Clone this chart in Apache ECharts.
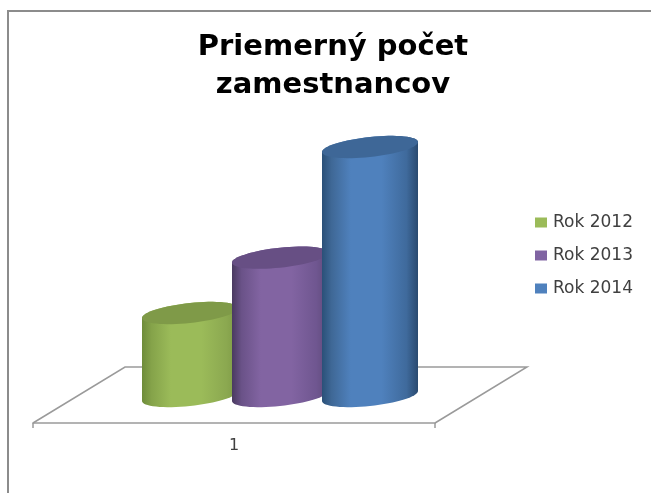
<!DOCTYPE html>
<html>
<head>
<meta charset="utf-8">
<style>
	html, body { margin: 0; padding: 0; background: #fff; }
	#chart { width: 651px; height: 493px; }
</style>
<script src="https://cdn.jsdelivr.net/npm/echarts@6/dist/echarts.min.js"></script>
</head>
<body>
<div id="chart"></div>
<script>
var titleText = 'Priemerný počet\nzamestnancov';
var categories = ['1'];
var seriesNames = ['Rok 2012', 'Rok 2013', 'Rok 2014'];
var rok2012 = [3];
var rok2013 = [5];
var rok2014 = [9];

var fontName = '"DejaVu Sans", sans-serif';
var lineColor = '#9a9a9a';

/* cylinder look, one per series */
var looks = [
	{ base: '#9bbb59', top: '#7f9a48', stops: ['#6e8c3a', '#85a34a', '#9bbb59', '#9bbb59', '#8ba850', '#7d9a45'] },
	{ base: '#8064a2', top: '#674f84', stops: ['#4a3a60', '#6a5288', '#8264a2', '#8264a2', '#6f5690', '#5f4a7a'] },
	{ base: '#4f81bd', top: '#3e6797', stops: ['#2a5078', '#3f6896', '#4f81bd', '#4f81bd', '#3f6a9c', '#2a4a70'] }
];

/* the floor is a sheared plane behind the axis line */
var floorDepthX = 92;
var floorDepthY = 56;
var floorDrop = 27;
var barStep = 90;
var barRx = 48;
var barRy = 10;
var barTilt = 5;

function ringPoint(cx, cy, t) {
	return [
		cx + barRx * Math.cos(t),
		cy - barRy * Math.sin(t) - barTilt * Math.cos(t)
	];
}

function cylinder(seriesIndex) {
	return function (params, api) {
		var look = looks[seriesIndex];
		var topPt = api.coord([api.value(0), api.value(1)]);
		var basePt = api.coord([api.value(0), 0]);
		var cx = topPt[0] + floorDepthX / 2 + (seriesIndex - 1) * barStep;
		var side = [];
		var lid = [];
		var i;
		for (i = 0; i <= 32; i++) {
			side.push(ringPoint(cx, basePt[1], Math.PI + i / 32 * Math.PI));
		}
		for (i = 0; i <= 32; i++) {
			side.push(ringPoint(cx, topPt[1], i / 32 * Math.PI));
		}
		for (i = 0; i < 64; i++) {
			lid.push(ringPoint(cx, topPt[1], i / 64 * Math.PI * 2));
		}
		var offsets = [0, 0.1, 0.3, 0.62, 0.88, 1];
		var gradient = new echarts.graphic.LinearGradient(0, 0, 1, 0, look.stops.map(function (c, n) {
			return { offset: offsets[n], color: c };
		}));
		return {
			type: 'group',
			children: [
				{ type: 'polygon', shape: { points: side }, style: { fill: gradient } },
				{ type: 'polygon', shape: { points: lid }, style: { fill: look.top } }
			]
		};
	};
}

function floorPlane(params, api) {
	var zero = api.coord([0, 0]);
	var halfWidth = api.size([1, 0])[0] / 2;
	var y = zero[1] + floorDrop;
	var xl = zero[0] - halfWidth;
	var xr = zero[0] + halfWidth;
	var pts = [
		[xl, y],
		[xl + floorDepthX, y - floorDepthY],
		[xr + floorDepthX, y - floorDepthY],
		[xr, y]
	];
	return {
		type: 'polyline',
		shape: { points: pts },
		style: { fill: null, stroke: lineColor, lineWidth: 1.5 }
	};
}

function customSeries(name, values, index) {
	return {
		name: name,
		type: 'custom',
		coordinateSystem: 'cartesian2d',
		renderItem: cylinder(index),
		itemStyle: { color: looks[index].base },
		clip: false,
		z: 3 + index,
		encode: { x: 0, y: 1 },
		data: values.map(function (v, i) { return [i, v]; })
	};
}

var chart = echarts.init(document.getElementById('chart'), null, { renderer: 'canvas' });
chart.setOption({
	animation: false,
	backgroundColor: '#ffffff',
	title: {
		text: titleText,
		left: 328,
		top: 23,
		textAlign: 'center',
		textStyle: {
			fontFamily: fontName,
			fontWeight: 'bold',
			fontSize: 29,
			lineHeight: 38,
			color: '#000000'
		}
	},
	legend: {
		orient: 'vertical',
		left: 530,
		top: 209,
		itemWidth: 12,
		itemHeight: 10,
		itemGap: 16,
		icon: 'rect',
		data: seriesNames,
		textStyle: { fontFamily: fontName, fontSize: 17, lineHeight: 17, color: '#404040', padding: [0, 0, 0, 1] }
	},
	grid: { left: 33, width: 402, top: 147, height: 249 },
	xAxis: {
		type: 'category',
		data: categories,
		position: 'bottom',
		offset: floorDrop,
		axisLine: { onZero: false, lineStyle: { color: lineColor, width: 1.5 } },
		axisTick: { show: true, length: 5, lineStyle: { color: lineColor, width: 1.5 } },
		axisLabel: { margin: 15, fontFamily: fontName, fontSize: 16, color: '#404040' },
		splitLine: { show: false }
	},
	yAxis: {
		type: 'value',
		min: 0,
		max: 9,
		interval: 1,
		show: false
	},
	graphic: [{
		type: 'polyline',
		silent: true,
		shape: { points: [[8, 493], [8, 11], [651, 11]] },
		style: { fill: null, stroke: '#8c8c8c', lineWidth: 2 }
	}],
	series: [
		{
			name: 'floor',
			type: 'custom',
			renderItem: floorPlane,
			silent: true,
			clip: false,
			z: 1,
			encode: { x: 0, y: 1 },
			data: [[0, 0]]
		},
		customSeries(seriesNames[0], rok2012, 0),
		customSeries(seriesNames[1], rok2013, 1),
		customSeries(seriesNames[2], rok2014, 2)
	]
});
</script>
</body>
</html>
